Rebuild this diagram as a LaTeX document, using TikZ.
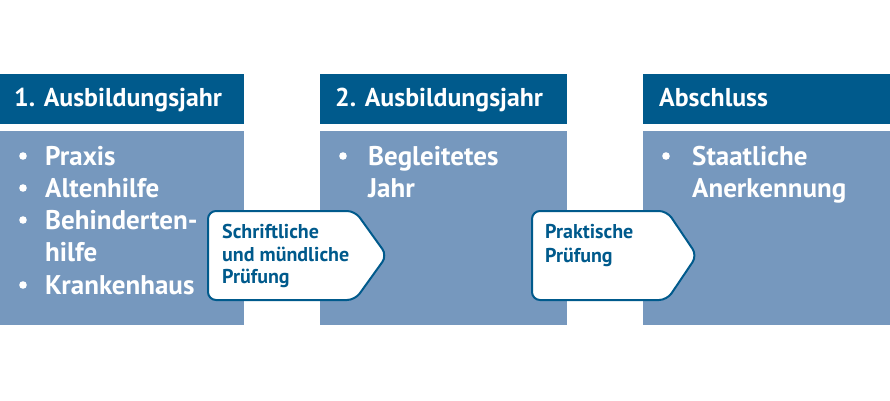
\documentclass[tikz,border=0pt]{standalone}
\usepackage{fontspec}
\setmainfont{PT Sans}
\definecolor{hdr}{RGB}{0,90,140}
\definecolor{bdy}{RGB}{118,152,190}
\begin{document}
\begin{tikzpicture}[x=1pt,y=-1pt,
  hdrbox/.style={fill=hdr},
  bdybox/.style={fill=bdy},
  hdrtxt/.style={anchor=base west,inner sep=0pt,text=white,font=\bfseries\fontsize{25.8}{30}\selectfont},
  bdytxt/.style={anchor=base west,inner sep=0pt,text=white,font=\bfseries\fontsize{27}{32}\selectfont},
  arrtxt/.style={anchor=base west,inner sep=0pt,text=hdr,font=\bfseries\fontsize{20}{22}\selectfont},
  arrbox/.style={draw=hdr,line width=2pt,fill=white,rounded corners=8pt},
  dot/.style={fill=white}]
\useasboundingbox (0,0) rectangle (890,400);
\fill[white] (0,0) rectangle (890,400);
% headers
\fill[hdrbox] (0,74) rectangle (244,124);
\fill[hdrbox] (320,74) rectangle (567,124);
\fill[hdrbox] (643,74) rectangle (890,124);
\node[hdrtxt] (h1) at (14,106) {1. Ausbildungsjahr};
\node[hdrtxt] (h2) at (335,106) {2. Ausbildungsjahr};
\node[hdrtxt] (h3) at (659,106) {Abschluss};
% bodies
\fill[bdybox] (0,131) rectangle (244,325);
\fill[bdybox] (320,131) rectangle (567,325);
\fill[bdybox] (643,131) rectangle (890,325);
% body 1
\fill[dot] (23,156) circle (3.8);
\fill[dot] (23,188) circle (3.8);
\fill[dot] (23,220) circle (3.8);
\fill[dot] (23,285) circle (3.8);
\node[bdytxt] (b1a) at (45,165) {Praxis};
\node[bdytxt] (b1b) at (45,197) {Altenhilfe};
\node[bdytxt] (b1c) at (45,229) {Behinderten-};
\node[bdytxt] (b1d) at (45,261) {hilfe};
\node[bdytxt] (b1e) at (45,294) {Krankenhaus};
% body 2
\fill[dot] (343,156) circle (3.8);
\node[bdytxt] (b2a) at (368,165) {Begleitetes};
\node[bdytxt] (b2b) at (368,197) {Jahr};
% body 3
\fill[dot] (666,156) circle (3.8);
\node[bdytxt] (b3a) at (692,165) {Staatliche};
\node[bdytxt] (b3b) at (692,197) {Anerkennung};
% arrows
\draw[arrbox] (208,211) -- (355,211) -- (387,255.5) -- (355,300) -- (208,300) -- cycle;
\node[arrtxt] (a1a) at (222,238) {Schriftliche};
\node[arrtxt] (a1b) at (222,261) {und mündliche};
\node[arrtxt] (a1c) at (222,283) {Prüfung};
\draw[arrbox] (532,211) -- (667,211) -- (697,255.5) -- (667,300) -- (532,300) -- cycle;
\node[arrtxt] (a2a) at (545,238) {Praktische};
\node[arrtxt] (a2b) at (545,262) {Prüfung};
\end{tikzpicture}
\end{document}
